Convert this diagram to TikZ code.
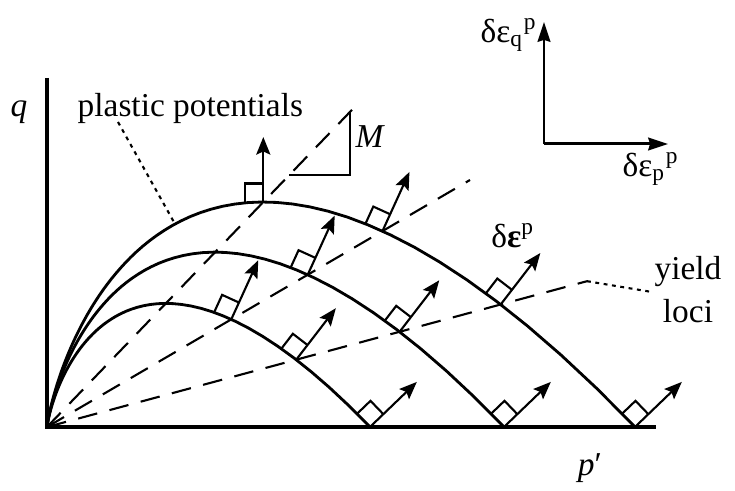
\documentclass[tikz,border=0pt]{standalone}
\usepackage{fontspec}
\setmainfont{Liberation Serif}
\usetikzlibrary{arrows.meta}

\tikzstyle{axis} = [line width=1.15pt]
\tikzstyle{locus} = [line width=0.8pt]
\tikzstyle{csl} = [line width=0.6pt, dash pattern=on 5.6pt off 3.6pt]
\tikzstyle{thinline} = [line width=0.6pt]
\tikzstyle{arrow} = [line width=0.6pt, -{Stealth[length=5pt,width=4pt,inset=0.9pt]}]
\tikzstyle{incarrow} = [line width=0.85pt, -{Stealth[length=5.6pt,width=3.6pt,inset=0.5pt]}]
\tikzstyle{leader} = [line width=0.6pt, dash pattern=on 1.1pt off 1.3pt]
\tikzstyle{label} = [inner sep=0pt]

\newcommand{\slopeM}{1.04}

\begin{document}
\begin{tikzpicture}[font=\fontsize{9.5pt}{11.4pt}\selectfont, line join=miter]
\useasboundingbox (-0.47,-0.64) rectangle (6.88,4.27);

% axes
\coordinate (O) at (0,0);
\coordinate (qend) at (0,3.49);
\coordinate (pend) at (6.09,0);
\draw[axis] (qend) -- (O) -- (pend);
\node[label] (q) at (-0.28,3.15) {\textit{q}};
\node[label] (p) at (5.43,-0.41) {\textit{p}′};

% stress ratio lines
\coordinate (lineA) at (3.11,3.234);
\coordinate (lineB) at (4.23,2.470);
\coordinate (lineC) at (5.40,1.458);
\foreach \e in {lineA,lineB,lineC}
  \draw[csl] (O) -- (\e);

% yield loci
\foreach \pz in {3.23,4.57,5.88}
  \draw[locus] (O) -- plot[domain=10:0, samples=150, variable=\t] ({\pz*exp(-\t)}, {\slopeM*\pz*exp(-\t)*\t});

% normals with right angle marks
\foreach \pz/\k/\nm in {5.88/1.04/a3,5.88/0.584/b3,5.88/0.27/c3,5.88/0/d3,
                        4.57/0.584/b2,4.57/0.27/c2,4.57/0/d2,
                        3.23/0.584/b1,3.23/0.27/c1,3.23/0/d1}{
  \pgfmathsetmacro{\ix}{\pz*exp(-\k/\slopeM)}
  \pgfmathsetmacro{\iy}{\k*\ix}
  \pgfmathsetmacro{\nlen}{sqrt((\slopeM-\k)^2+1)}
  \pgfmathsetmacro{\nx}{(\slopeM-\k)/\nlen}
  \pgfmathsetmacro{\ny}{1/\nlen}
  \coordinate (\nm) at (\ix,\iy);
  \coordinate (\nm-tip) at ({\ix+0.65*\nx},{\iy+0.65*\ny});
  \coordinate (\nm-s1) at ({\ix-0.185*\ny},{\iy+0.185*\nx});
  \coordinate (\nm-s2) at ({\ix-0.185*\ny+0.185*\nx},{\iy+0.185*\nx+0.185*\ny});
  \coordinate (\nm-s3) at ({\ix+0.185*\nx},{\iy+0.185*\ny});
  \draw[thinline] (\nm-s1) -- (\nm-s2) -- (\nm-s3);
  \draw[arrow] (\nm) -- (\nm-tip);
}

% slope M
\coordinate (tA) at (2.423,2.52);
\coordinate (tB) at (3.03,2.52);
\coordinate (tC) at (3.03,3.151);
\draw[thinline] (tA) -- (tB) -- (tC);
\node[label, anchor=west] (M) at (3.08,2.90) {\textit{M}};

% labels with leaders
\node[label, anchor=base west] (pp) at (0.30,3.10) {plastic potentials};
\coordinate (ppfoot) at (0.71,3.05);
\coordinate (ppend) at (1.28,2.03);
\draw[leader] (ppfoot) -- (ppend);

\node[label, anchor=base] (yield) at (6.41,1.47) {yield};
\node[label, anchor=base] (loci) at (6.41,1.04) {loci};
\coordinate (ylend) at (6.05,1.35);
\draw[leader] (lineC) -- (ylend);

% strain increment axes
\coordinate (inc) at (4.97,2.83);
\coordinate (incq) at (4.97,4.05);
\coordinate (incp) at (6.21,2.83);
\draw[incarrow] (inc) -- (incq);
\draw[incarrow] (inc) -- (incp);
\node[label, anchor=base east] (dq) at (4.91,3.84) {δε\textsubscript{q}\textsuperscript{p}};
\node[label, anchor=base] (dp) at (6.04,2.50) {δε\textsubscript{p}\textsuperscript{p}};
\node[label, anchor=base] (de) at (4.66,1.79) {δ\textbf{ε}\textsuperscript{p}};

\end{tikzpicture}
\end{document}
